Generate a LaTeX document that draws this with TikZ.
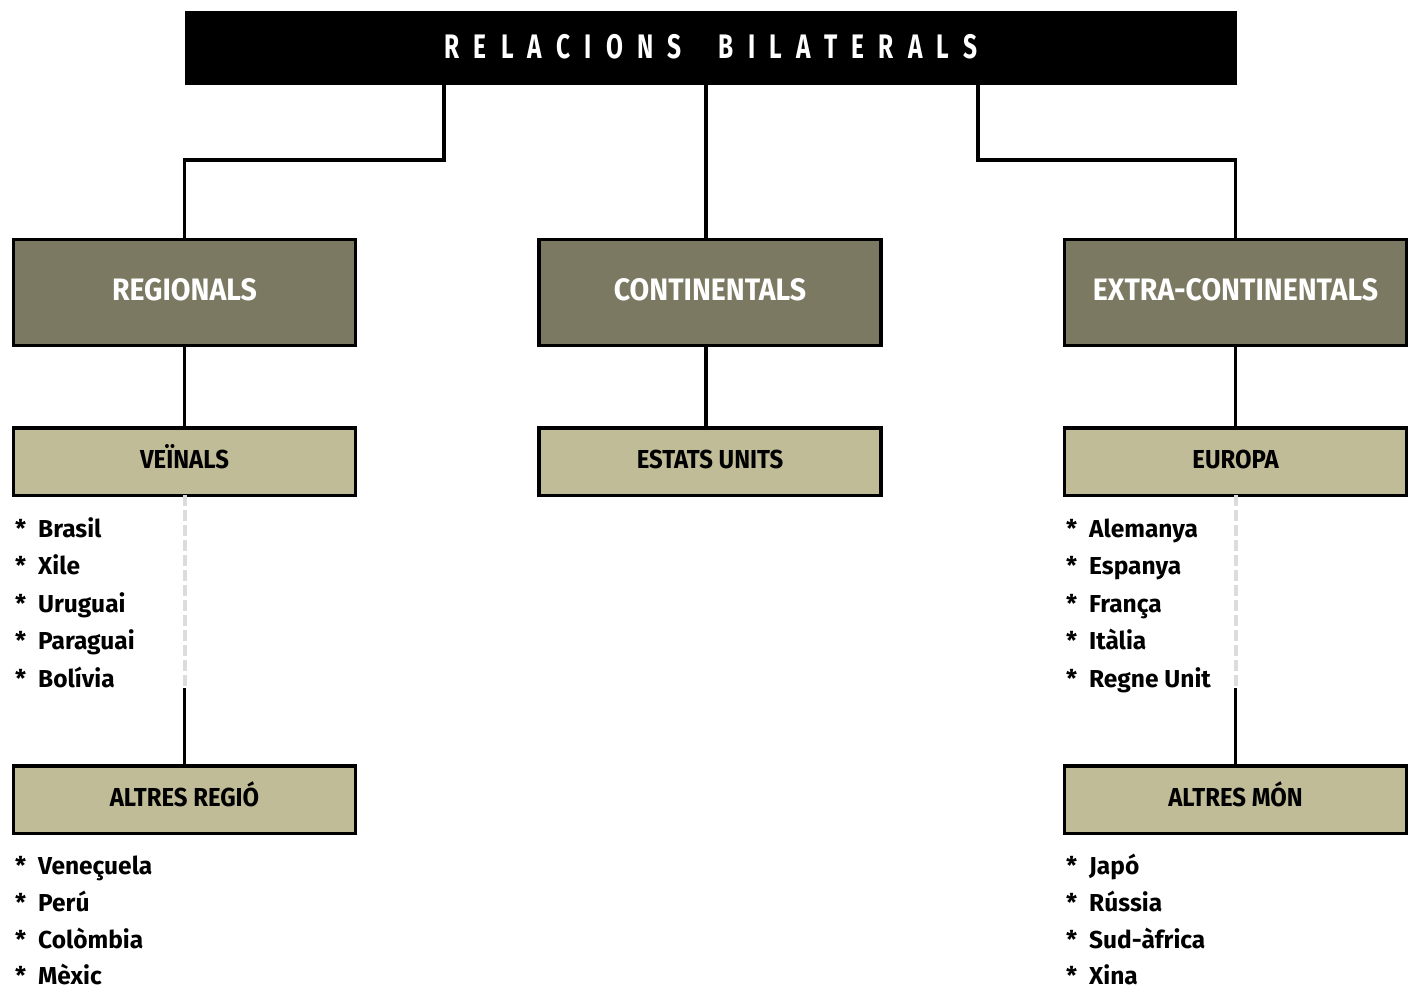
\documentclass[tikz,border=0pt]{standalone}
\usepackage{fontspec}
\setmainfont{Fira Sans}
\newfontfamily\boxfont{Fira Sans}[FakeStretch=0.92]
\newfontfamily\titlefont{Fira Sans}[FakeStretch=0.72, LetterSpace=42]
\newfontfamily\listfont{Fira Sans}
\definecolor{darkbox}{HTML}{7B7961}
\definecolor{lightbox}{HTML}{C0BC98}
\definecolor{dashgray}{HTML}{DCDCDC}
\begin{document}
\begin{tikzpicture}[x=1pt,y=-1pt,
  conn/.style={line width=3.5pt},
  dashline/.style={line width=4pt, draw=dashgray, dash pattern=on 11pt off 4pt},
  titlebox/.style={fill=black, text=white, minimum width=1052pt, minimum height=74pt, inner sep=0pt,
    text height=20pt, text depth=0pt,
    font=\titlefont\bfseries\fontsize{34}{34}\selectfont},
  lvltwo/.style={draw, line width=3.5pt, fill=darkbox, text=white, minimum width=342pt, minimum height=106pt,
    inner sep=0pt, text height=21pt, text depth=4.5pt, font=\boxfont\bfseries\fontsize{31}{31}\selectfont},
  lvlthree/.style={draw, line width=3.5pt, fill=lightbox, text=black, minimum width=342pt, minimum height=67.5pt,
    inner sep=0pt, text height=18pt, text depth=5pt, font=\boxfont\bfseries\fontsize{26}{26}\selectfont},
  item/.style={anchor=base west, inner sep=0pt, font=\listfont\bfseries\fontsize{24.5}{24.5}\selectfont}
]
\useasboundingbox (0,0) rectangle (1417,988);

% title
\node[titlebox] (title) at (711,48) {RELACIONS\hspace{17pt} BILATERALS};

% level two
\node[lvltwo] (reg) at (184.5,292.5) {REGIONALS};
\node[lvltwo] (cont) at (710,292.5) {CONTINENTALS};
\node[lvltwo] (extra) at (1235.5,292.5) {EXTRA-CONTINENTALS};

% level three
\node[lvlthree] (vei) at (184.5,461.5) {VEÏNALS};
\node[lvlthree] (eu) at (710,461.5) {ESTATS UNITS};
\node[lvlthree] (europa) at (1235.5,461.5) {EUROPA};

% level four
\node[lvlthree] (altreg) at (184.5,799.5) {ALTRES REGIÓ};
\node[lvlthree] (altmon) at (1235.5,799.5) {ALTRES MÓN};

% junction coordinates
\coordinate (jl) at (444,160);
\coordinate (jr) at (978,160);
\coordinate (jc) at (706,0);
\coordinate (dl) at (184.5,688);
\coordinate (dr) at (1235.5,688);

% connectors
\draw[conn] (title.south -| jl) -- (jl) -| (reg.north);
\draw[conn] (title.south -| jc) -- (cont.north -| jc);
\draw[conn] (title.south -| jr) -- (jr) -| (extra.north);
\draw[conn] (reg.south) -- (vei.north);
\draw[conn] (cont.south -| jc) -- (eu.north -| jc);
\draw[conn] (extra.south) -- (europa.north);
\draw[dashline] ([yshift=2pt]vei.south) -- (dl);
\draw[conn] (dl) -- (altreg.north);
\draw[dashline] ([yshift=2pt]europa.south) -- (dr);
\draw[conn] (dr) -- (altmon.north);

% lists
\foreach \t [count=\i] in {Brasil,Xile,Uruguai,Paraguai,Bolívia}
  \node[item] (va\i) at (15,{537+37.5*(\i-1)}) {\makebox[23pt][l]{*}\t};
\foreach \t [count=\i] in {Veneçuela,Perú,Colòmbia,Mèxic}
  \node[item] (ar\i) at (15,{874.5+36.8*(\i-1)}) {\makebox[23pt][l]{*}\t};
\foreach \t [count=\i] in {Alemanya,Espanya,França,Itàlia,Regne Unit}
  \node[item] (eu\i) at (1066,{537+37.5*(\i-1)}) {\makebox[23pt][l]{*}\t};
\foreach \t [count=\i] in {Japó,Rússia,Sud-àfrica,Xina}
  \node[item] (am\i) at (1066,{874.5+36.8*(\i-1)}) {\makebox[23pt][l]{*}\t};
\end{tikzpicture}
\end{document}
